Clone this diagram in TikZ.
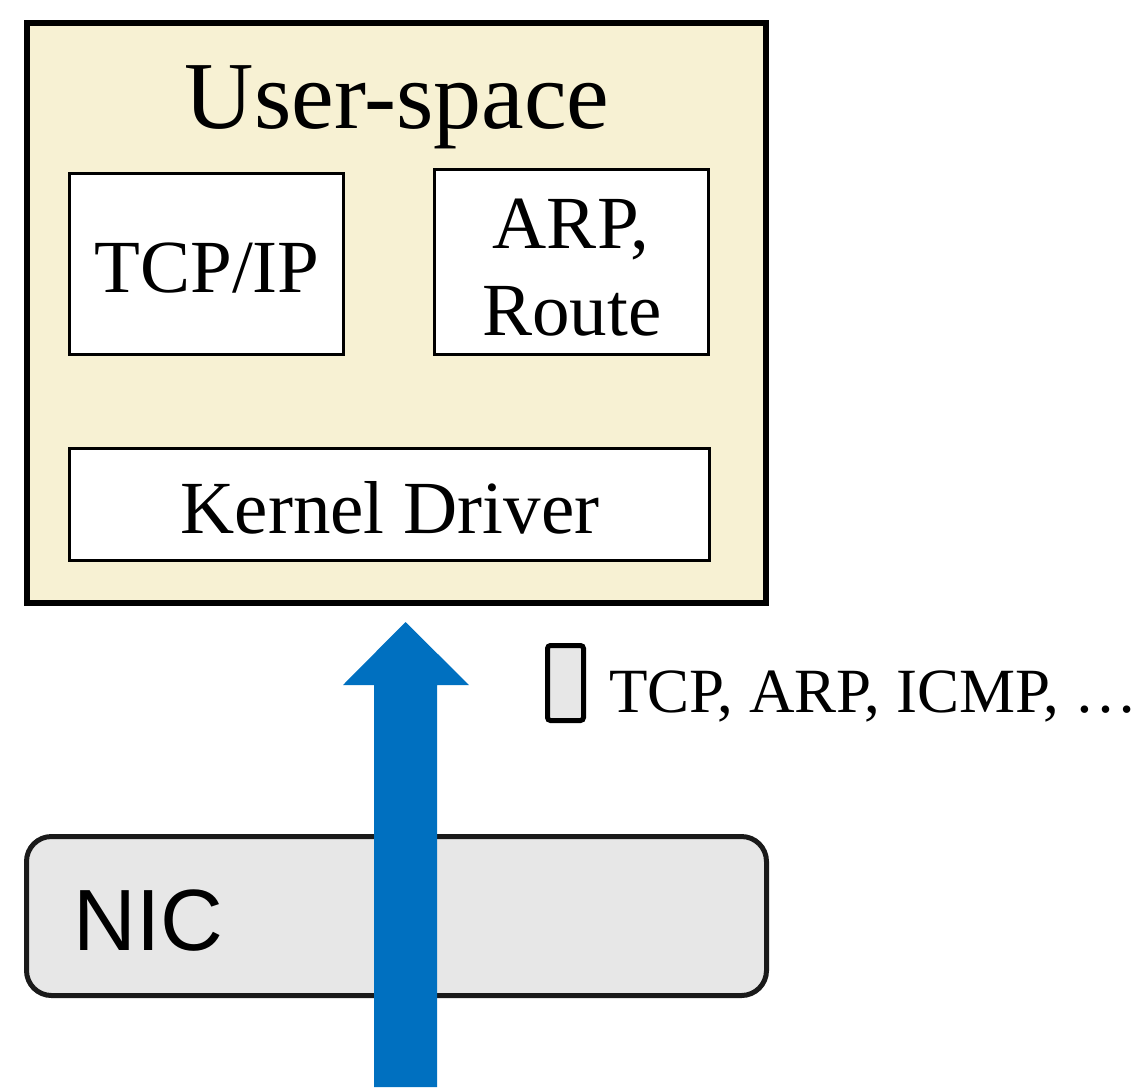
\documentclass[tikz,border=0pt]{standalone}
\usepackage{fontspec}
\setmainfont{Liberation Serif}
\newfontfamily\nicfont{Liberation Sans}
\definecolor{userbg}{HTML}{F7F1D3}
\definecolor{pktgray}{HTML}{E7E7E7}
\definecolor{flowblue}{HTML}{0070C0}
\definecolor{nicedge}{HTML}{1A1A1A}
\tikzset{
  modbox/.style={draw=black, fill=white, line width=3pt},
  serifbig/.style={inner sep=0pt, font=\fontsize{96}{110}\selectfont},
  serifmid/.style={inner sep=0pt, font=\fontsize{75}{88}\selectfont},
  seriflabel/.style={inner sep=0pt, font=\fontsize{63}{72}\selectfont},
}
\begin{document}
\begin{tikzpicture}[x=1pt, y=-1pt]
  \useasboundingbox (0,0) rectangle (1142,1087);

  % user-space container
  \draw[line width=6pt, fill=userbg] (27,23) rectangle (766,603);
  \node[serifbig, anchor=base] (us) at (397,128) {User-space};

  % protocol modules
  \draw[modbox] (69.5,173.5) rectangle (343.5,354.5);
  \node[serifmid, anchor=base] (tcpip) at (207,292) {TCP/IP};

  \draw[modbox] (434.5,169.5) rectangle (708.5,354.5);
  \node[serifmid, anchor=base] (arp) at (571,248) {ARP,};
  \node[serifmid, anchor=base] (route) at (572,335) {Route};

  \draw[modbox] (69.5,448.5) rectangle (709.5,560.5);
  \node[serifmid, anchor=base] (kdrv) at (390,533) {Kernel Driver};

  % NIC
  \draw[line width=5pt, draw=nicedge, fill=pktgray, rounded corners=25pt]
    (26.5,836.5) rectangle (766.5,995.5);
  \node[inner sep=0pt, anchor=base west, font=\nicfont\fontsize{87}{100}\selectfont]
    (nic) at (73,950) {NIC};

  % packet flow arrow
  \coordinate (tail) at (405.5,1087);
  \coordinate (tip) at (405.5,622);
  \fill[flowblue] (374,1087) -- (374,685) -- (343,685) -- (tip)
    -- (469,685) -- (437,685) -- (437,1087) -- cycle;

  % packet legend
  \draw[line width=5pt, fill=pktgray, rounded corners=3pt]
    (547.5,645.5) rectangle (583.5,720.5);
  \node[seriflabel, anchor=base west] (pkts) at (609,712) {TCP, ARP, ICMP, …};
\end{tikzpicture}
\end{document}
